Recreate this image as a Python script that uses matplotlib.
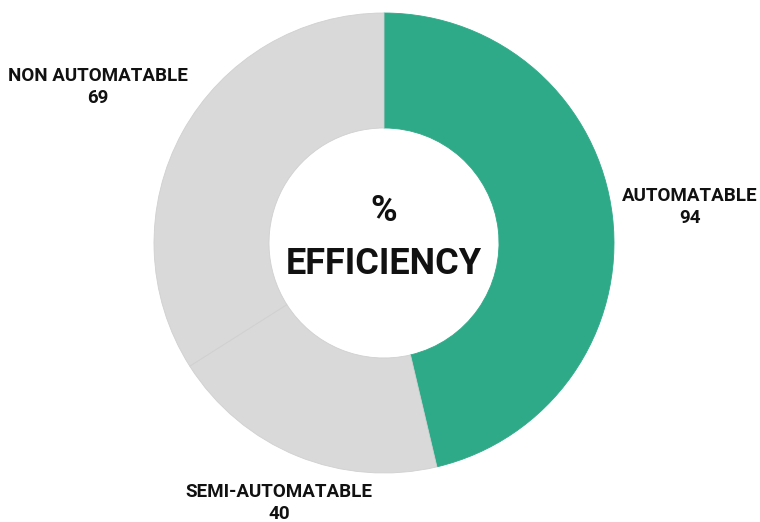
import matplotlib
matplotlib.use('Agg')
import matplotlib.pyplot as plt

labels = ['AUTOMATABLE', 'SEMI-AUTOMATABLE', 'NON AUTOMATABLE']
values = [94, 40, 69]
colors = ['#2EAA89', '#D9D9D9', '#D9D9D9']

W, H = 760, 522
fig = plt.figure(figsize=(W / 100, H / 100), dpi=100)
ax = fig.add_axes([0, 0, 1, 1])

cx, cy, r = 384, H - 243, 230
wedges, _ = ax.pie(values, colors=colors, startangle=90, counterclock=False,
                   center=(cx, cy), radius=r, frame=True,
                   wedgeprops=dict(width=r * 0.5, linewidth=0.6))
# thin seam only between the grey slices
for w, c in zip(wedges, colors):
    w.set_edgecolor('#D0D0D0' if c == '#D9D9D9' else c)
ax.set_xlim(0, W)
ax.set_ylim(0, H)
ax.set_aspect('equal')
ax.axis('off')

font = 'Roboto'
label_pos = {
    'AUTOMATABLE': (690, 207),
    'SEMI-AUTOMATABLE': (279, 503),
    'NON AUTOMATABLE': (98, 87),
}
for lab, val in zip(labels, values):
    x, y = label_pos[lab]
    ax.text(x, H - y, f'{lab}\n{val}', ha='center', va='center',
            fontsize=13.5, fontweight='bold', family=font,
            color='#111111', linespacing=1.35)

ax.text(cx, H - 211, '%', ha='center', va='center', fontsize=26,
        fontweight='bold', family=font, color='#111111')
ax.text(cx, H - 264, 'EFFICIENCY', ha='center', va='center', fontsize=26,
        fontweight='bold', family=font, color='#111111')

fig.savefig('out.png', dpi=100)
